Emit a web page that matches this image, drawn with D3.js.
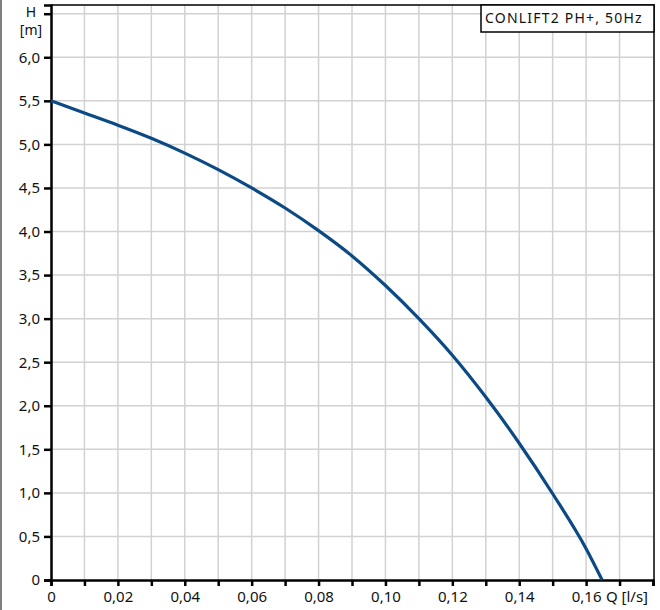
<!DOCTYPE html>
<html>
<head>
<meta charset="utf-8">
<script src="https://cdn.jsdelivr.net/npm/d3@7"></script>
<style>
  body { margin: 0; background: #fff; }
  svg { display: block; }
  svg text { font-family: "Noto Sans", sans-serif; }
</style>
</head>
<body>
<div id="chart"></div>
<script>
// data
const flowQ = [0, 0.01, 0.02, 0.03, 0.04, 0.05, 0.06, 0.07, 0.08, 0.09, 0.10, 0.11, 0.12, 0.13, 0.14, 0.15, 0.16, 0.1648];
const headH = [5.50, 5.36, 5.22, 5.07, 4.90, 4.71, 4.50, 4.27, 4.01, 3.72, 3.38, 3.00, 2.58, 2.10, 1.57, 0.99, 0.36, 0];

const xTicks = d3.range(0, 19).map(i => i / 100);      // 0 .. 0.18
const xLabels = [0, 0.02, 0.04, 0.06, 0.08, 0.10, 0.12, 0.14, 0.16];
const yTicks = d3.range(0, 14).map(i => i / 2);          // 0 .. 6.5
const yLabels = [0, 0.5, 1, 1.5, 2, 2.5, 3, 3.5, 4, 4.5, 5, 5.5, 6];
const title = "CONLIFT2 PH+, 50Hz";

const width = 660, height = 610;

const svg = d3.select('#chart')
  .append('svg')
  .attr('width', width)
  .attr('height', height);

const x = d3.scaleLinear().domain([0, 0.18]).range([51, 653]);
const y = d3.scaleLinear().domain([0, 6.6]).range([580, 5]);

const fmt = v => v === 0 ? '0' : d3.format('.2f')(v).replace('.', ',');
const fmtY = v => v === 0 ? '0' : d3.format('.1f')(v).replace('.', ',');

// page edge line on the left
svg.append('line')
  .attr('x1', 1).attr('x2', 1)
  .attr('y1', 0).attr('y2', height)
  .attr('stroke', '#555').attr('stroke-width', 1.5);

// grid
svg.append('g')
  .selectAll('line')
  .data(xTicks.filter(d => d > 0 && d < 0.18))
  .join('line')
    .attr('x1', d => x(d)).attr('x2', d => x(d))
    .attr('y1', y(6.6)).attr('y2', y(0))
    .attr('stroke', '#d2d2d2').attr('stroke-width', 1.5);

svg.append('g')
  .selectAll('line')
  .data(yTicks.filter(d => d > 0))
  .join('line')
    .attr('x1', x(0)).attr('x2', x(0.18))
    .attr('y1', d => y(d)).attr('y2', d => y(d))
    .attr('stroke', '#d2d2d2').attr('stroke-width', 1.5);

// frame top and right
svg.append('path')
  .attr('d', `M${x(0)},${y(6.6)}H${x(0.18) + 1}V${y(0)}`)
  .attr('fill', 'none').attr('stroke', '#000').attr('stroke-width', 1.5);

// axes
const xAxis = d3.axisBottom(x)
  .tickValues(xTicks)
  .tickSize(6)
  .tickFormat(d => xLabels.some(v => Math.abs(v - d) < 1e-9) ? fmt(d) : '');

svg.append('g')
  .attr('transform', `translate(0,${y(0)})`)
  .call(xAxis)
  .attr('font-family', null)
  .call(g => g.select('.domain').attr('stroke-width', 2.5))
  .call(g => g.selectAll('.tick line').attr('stroke-width', 2.5))
  .call(g => g.selectAll('.tick text').attr('font-size', '15px').attr('fill', '#111').attr('y', 11).attr('dy', '0.71em'));

const yAxis = d3.axisLeft(y)
  .tickValues(yTicks)
  .tickSize(7)
  .tickFormat(d => yLabels.includes(d) ? fmtY(d) : '');

svg.append('g')
  .attr('transform', `translate(${x(0)},0)`)
  .call(yAxis)
  .attr('font-family', null)
  .call(g => g.select('.domain').attr('stroke-width', 2.5))
  .call(g => g.selectAll('.tick line').attr('stroke-width', 2.5))
  .call(g => g.selectAll('.tick text').attr('font-size', '15px').attr('fill', '#111').attr('x', -11));

// axis titles
svg.append('text')
  .attr('x', 31).attr('y', 17)
  .attr('text-anchor', 'middle')
  .attr('font-size', '14px').attr('fill', '#111')
  .text('H');
svg.append('text')
  .attr('x', 31).attr('y', 35)
  .attr('text-anchor', 'middle')
  .attr('font-size', '14px').attr('fill', '#111')
  .text('[m]');
svg.append('text')
  .attr('x', 648).attr('y', 602)
  .attr('text-anchor', 'end')
  .attr('font-size', '15px').attr('fill', '#111')
  .text('Q [l/s]');

// curve
const pts = flowQ.map((q, i) => [q, headH[i]]);
svg.append('path')
  .datum(pts)
  .attr('fill', 'none')
  .attr('stroke', '#0b4a84')
  .attr('stroke-width', 3.2)
  .attr('d', d3.line().x(d => x(d[0])).y(d => y(d[1])).curve(d3.curveMonotoneX));

// title box
const box = svg.append('g');
box.append('rect')
  .attr('x', 481).attr('y', y(6.6))
  .attr('width', x(0.18) + 1 - 481).attr('height', 27)
  .attr('fill', '#fff').attr('stroke', '#000').attr('stroke-width', 1.5);
box.append('text')
  .attr('x', 485).attr('y', 23)
  .attr('font-size', '14px').attr('fill', '#111')
  .attr('letter-spacing', '1.2px')
  .text(title);
</script>
</body>
</html>
